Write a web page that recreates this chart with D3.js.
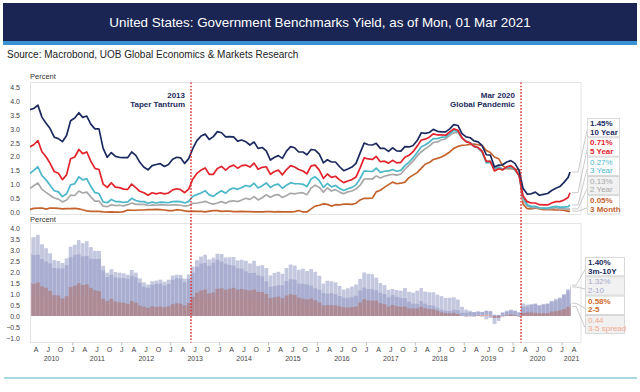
<!DOCTYPE html>
<html><head><meta charset="utf-8">
<script src="https://cdn.jsdelivr.net/npm/d3@7"></script>
<style>body{margin:0;background:#fff}svg{display:block;font-family:"Liberation Sans",Arial,sans-serif}</style>
</head><body><svg id="c" width="640" height="392"></svg>
<script>
// ---- data (monthly, starting Feb 2010; final entry = Mon 01 Mar 2021) ----
const startMonth = "2010-02";
const lastDate = "2021-03-01";
const y10 = [3.69,3.73,3.85,3.42,3.20,3.01,2.70,2.65,2.54,2.76,3.29,
 3.39,3.58,3.41,3.46,3.17,3.00,3.00,2.30,1.98,2.15,2.01,1.98,
 1.97,1.97,2.17,2.05,1.80,1.62,1.53,1.68,1.72,1.75,1.65,1.72,
 1.91,1.98,1.96,1.76,1.93,2.30,2.58,2.74,2.81,2.62,2.72,2.90,
 2.86,2.71,2.72,2.71,2.56,2.60,2.54,2.42,2.53,2.30,2.33,2.21,
 1.88,1.98,2.04,1.94,2.20,2.36,2.32,2.17,2.17,2.07,2.26,2.24,
 2.09,1.78,1.89,1.81,1.81,1.64,1.50,1.56,1.63,1.76,2.14,2.49,
 2.43,2.42,2.48,2.30,2.30,2.19,2.32,2.21,2.20,2.36,2.35,2.40,
 2.58,2.86,2.84,2.87,2.98,2.91,2.89,2.89,3.00,3.15,3.12,2.83,
 2.71,2.68,2.57,2.53,2.40,2.07,2.06,1.63,1.70,1.71,1.81,1.86,
 1.76,1.50,0.87,0.66,0.67,0.73,0.62,0.65,0.68,0.79,0.87,0.93,
 1.08,1.26,1.45];
const y5 = [2.36,2.43,2.58,2.18,2.00,1.76,1.47,1.41,1.18,1.35,1.93,
 1.99,2.26,2.11,2.17,1.84,1.58,1.54,1.02,0.90,1.06,0.91,0.89,
 0.84,0.83,1.02,0.89,0.76,0.71,0.62,0.71,0.67,0.71,0.67,0.70,
 0.81,0.85,0.82,0.71,0.84,1.20,1.40,1.52,1.60,1.37,1.37,1.58,
 1.65,1.52,1.64,1.70,1.59,1.68,1.70,1.63,1.77,1.55,1.62,1.64,
 1.37,1.47,1.52,1.35,1.54,1.68,1.63,1.54,1.49,1.39,1.67,1.70,
 1.52,1.22,1.38,1.26,1.30,1.17,1.07,1.13,1.18,1.27,1.60,1.96,
 1.92,1.90,2.01,1.82,1.84,1.77,1.87,1.78,1.80,1.98,2.05,2.18,
 2.38,2.60,2.63,2.70,2.82,2.78,2.78,2.77,2.89,3.00,2.95,2.68,
 2.54,2.49,2.37,2.33,2.19,1.83,1.83,1.49,1.57,1.53,1.64,1.68,
 1.56,1.32,0.59,0.39,0.34,0.34,0.28,0.27,0.27,0.34,0.39,0.39,
 0.45,0.54,0.71];
const y3 = [1.40,1.51,1.64,1.32,1.17,0.98,0.78,0.74,0.57,0.67,0.99,
 1.03,1.28,1.17,1.21,0.94,0.71,0.68,0.38,0.35,0.47,0.39,0.39,
 0.36,0.38,0.51,0.43,0.39,0.39,0.33,0.37,0.34,0.37,0.36,0.35,
 0.39,0.40,0.39,0.34,0.40,0.58,0.64,0.70,0.78,0.63,0.58,0.69,
 0.78,0.69,0.82,0.88,0.83,0.90,0.97,0.93,1.05,0.88,0.96,1.06,
 0.90,0.99,1.02,0.87,0.98,1.07,1.03,1.03,1.01,0.93,1.20,1.28,
 1.14,0.90,1.04,0.92,0.97,0.86,0.79,0.85,0.90,0.99,1.22,1.49,
 1.48,1.47,1.59,1.44,1.48,1.49,1.54,1.48,1.51,1.68,1.81,1.96,
 2.15,2.36,2.42,2.52,2.65,2.65,2.70,2.71,2.84,2.94,2.91,2.68,
 2.54,2.50,2.37,2.31,2.16,1.78,1.80,1.57,1.62,1.53,1.61,1.63,
 1.53,1.33,0.57,0.28,0.22,0.22,0.17,0.16,0.16,0.19,0.22,0.19,
 0.19,0.21,0.27];
const y2 = [0.86,0.96,1.06,0.83,0.72,0.62,0.52,0.48,0.38,0.45,0.62,
 0.61,0.77,0.70,0.73,0.56,0.41,0.41,0.23,0.21,0.28,0.25,0.26,
 0.24,0.28,0.34,0.29,0.29,0.29,0.25,0.27,0.26,0.28,0.27,0.26,
 0.27,0.27,0.26,0.23,0.25,0.33,0.34,0.36,0.40,0.34,0.30,0.34,
 0.39,0.33,0.40,0.42,0.39,0.45,0.51,0.47,0.57,0.45,0.53,0.64,
 0.55,0.62,0.64,0.54,0.61,0.69,0.67,0.70,0.71,0.64,0.88,0.98,
 0.90,0.73,0.88,0.77,0.82,0.73,0.67,0.74,0.77,0.84,0.98,1.20,
 1.21,1.20,1.31,1.24,1.30,1.34,1.37,1.34,1.38,1.55,1.70,1.84,
 2.03,2.18,2.28,2.38,2.51,2.53,2.61,2.64,2.77,2.86,2.86,2.68,
 2.56,2.50,2.39,2.32,2.21,1.83,1.84,1.57,1.65,1.55,1.61,1.61,
 1.52,1.33,0.45,0.23,0.17,0.19,0.15,0.14,0.13,0.14,0.17,0.13,
 0.13,0.12,0.13];
const m3 = [0.11,0.15,0.16,0.16,0.12,0.16,0.16,0.15,0.13,0.14,0.14,
 0.15,0.13,0.10,0.06,0.04,0.04,0.04,0.02,0.01,0.02,0.01,0.01,
 0.03,0.09,0.08,0.08,0.09,0.09,0.10,0.10,0.11,0.10,0.09,0.07,
 0.07,0.10,0.09,0.06,0.04,0.05,0.04,0.04,0.02,0.05,0.07,0.07,
 0.04,0.05,0.05,0.03,0.03,0.04,0.03,0.03,0.02,0.02,0.02,0.03,
 0.03,0.02,0.03,0.02,0.02,0.02,0.03,0.07,0.02,0.02,0.13,0.23,
 0.26,0.31,0.29,0.23,0.28,0.27,0.30,0.30,0.29,0.33,0.45,0.51,
 0.51,0.52,0.74,0.80,0.90,1.00,1.09,1.03,1.05,1.09,1.25,1.34,
 1.43,1.59,1.73,1.79,1.90,1.94,1.99,2.07,2.17,2.30,2.37,2.41,
 2.42,2.44,2.45,2.43,2.40,2.22,2.15,1.99,1.93,1.68,1.57,1.57,
 1.55,1.54,0.30,0.14,0.13,0.16,0.13,0.10,0.11,0.10,0.09,0.09,
 0.08,0.04,0.05];
// spreads (lower panel)
const s3m10 = [3.58,3.58,3.69,3.26,3.08,2.85,2.54,2.50,2.41,2.62,3.15,
 3.24,3.45,3.31,3.40,3.13,2.96,2.96,2.28,1.97,2.13,2.00,1.97,
 1.94,1.88,2.09,1.97,1.71,1.53,1.43,1.58,1.61,1.65,1.56,1.65,
 1.84,1.88,1.87,1.70,1.89,2.25,2.54,2.70,2.79,2.57,2.65,2.83,
 2.82,2.66,2.67,2.68,2.53,2.56,2.51,2.39,2.51,2.28,2.31,2.18,
 1.85,1.96,2.01,1.92,2.18,2.34,2.29,2.10,2.15,2.05,2.13,2.01,
 1.83,1.47,1.60,1.58,1.53,1.37,1.20,1.26,1.34,1.43,1.69,1.98,
 1.92,1.90,1.74,1.50,1.40,1.19,1.23,1.18,1.15,1.27,1.10,1.06,
 1.15,1.27,1.11,1.08,1.08,0.97,0.90,0.82,0.83,0.85,0.75,0.42,
 0.29,0.24,0.12,0.10,0.00,-0.15,-0.09,-0.36,-0.23,0.03,0.24,0.29,
 0.21,-0.04,0.57,0.52,0.54,0.57,0.49,0.55,0.57,0.69,0.78,0.84,
 1.00,1.22,1.40];
const s2_10 = [2.83,2.77,2.79,2.59,2.48,2.39,2.18,2.17,2.16,2.31,2.67,
 2.78,2.81,2.71,2.73,2.61,2.59,2.59,2.07,1.77,1.87,1.76,1.72,
 1.73,1.69,1.83,1.76,1.51,1.33,1.28,1.41,1.46,1.47,1.38,1.46,
 1.64,1.71,1.70,1.53,1.68,1.97,2.24,2.38,2.41,2.28,2.42,2.56,
 2.47,2.38,2.32,2.29,2.17,2.15,2.03,1.95,1.96,1.85,1.80,1.57,
 1.33,1.36,1.40,1.40,1.59,1.67,1.65,1.47,1.46,1.43,1.38,1.26,
 1.19,1.05,1.01,1.04,0.99,0.91,0.83,0.82,0.86,0.92,1.16,1.29,
 1.22,1.22,1.17,1.06,1.00,0.85,0.95,0.87,0.82,0.81,0.65,0.56,
 0.55,0.68,0.56,0.49,0.47,0.38,0.28,0.25,0.23,0.29,0.26,0.15,
 0.15,0.18,0.18,0.21,0.19,0.24,0.22,0.06,0.05,0.16,0.20,0.25,
 0.24,0.17,0.42,0.43,0.50,0.54,0.47,0.51,0.55,0.65,0.70,0.80,
 0.95,1.14,1.32];
const s2_5 = [1.50,1.47,1.52,1.35,1.28,1.14,0.95,0.93,0.80,0.90,1.31,
 1.38,1.49,1.41,1.44,1.28,1.17,1.13,0.79,0.69,0.78,0.66,0.63,
 0.60,0.55,0.68,0.60,0.47,0.42,0.37,0.44,0.41,0.43,0.40,0.44,
 0.54,0.58,0.56,0.48,0.59,0.87,1.06,1.16,1.20,1.03,1.07,1.24,
 1.26,1.19,1.24,1.28,1.20,1.23,1.19,1.16,1.20,1.10,1.09,1.00,
 0.82,0.85,0.88,0.81,0.93,0.99,0.96,0.84,0.78,0.75,0.79,0.72,
 0.62,0.49,0.50,0.49,0.48,0.44,0.40,0.39,0.41,0.43,0.62,0.76,
 0.71,0.70,0.70,0.58,0.54,0.43,0.50,0.44,0.42,0.43,0.35,0.34,
 0.35,0.42,0.35,0.32,0.31,0.25,0.17,0.13,0.12,0.14,0.09,0.00,
 -0.02,-0.01,-0.02,0.01,-0.02,0.00,-0.01,-0.08,-0.08,-0.02,0.03,0.07,
 0.04,-0.01,0.14,0.16,0.17,0.15,0.13,0.13,0.14,0.20,0.22,0.26,
 0.32,0.42,0.58];
const s3_5 = [0.96,0.92,0.94,0.86,0.83,0.78,0.69,0.67,0.61,0.68,0.94,
 0.96,0.98,0.94,0.96,0.90,0.87,0.86,0.64,0.55,0.59,0.52,0.50,
 0.48,0.45,0.51,0.46,0.37,0.32,0.29,0.34,0.33,0.34,0.31,0.35,
 0.42,0.45,0.43,0.37,0.44,0.62,0.76,0.82,0.82,0.74,0.79,0.89,
 0.87,0.83,0.82,0.82,0.76,0.78,0.73,0.70,0.72,0.67,0.66,0.58,
 0.47,0.48,0.50,0.48,0.56,0.61,0.60,0.51,0.48,0.46,0.47,0.42,
 0.38,0.32,0.34,0.34,0.33,0.31,0.28,0.28,0.28,0.28,0.38,0.47,
 0.44,0.43,0.42,0.38,0.36,0.28,0.33,0.30,0.29,0.30,0.24,0.22,
 0.23,0.24,0.21,0.18,0.17,0.13,0.08,0.06,0.05,0.06,0.04,0.00,
 0.00,-0.01,0.00,0.02,0.03,0.05,0.03,-0.08,-0.05,0.00,0.03,0.05,
 0.03,-0.01,0.02,0.11,0.12,0.12,0.11,0.11,0.11,0.15,0.17,0.20,
 0.26,0.33,0.44];
const topTicks = [0,0.5,1,1.5,2,2.5,3,3.5,4,4.5];
const botTicks = [-1,-0.5,0,0.5,1,1.5,2,2.5,3,3.5,4];
const monthLetters = {0:"J",3:"A",6:"J",9:"O"};
const events = [{date:"2013-06-01", l1:"2013", l2:"Taper Tantrum"},{date:"2020-03-01", l1:"Mar 2020", l2:"Global Pandemic"}];
const topSeries = [
  {name:"10 Year", val:"1.45%", data:y10, color:"#1c2a60", bold:true, bg:"#fff"},
  {name:"5 Year", val:"0.71%", data:y5, color:"#e3232c", bold:true, bg:"#fff"},
  {name:"3 Year", val:"0.27%", data:y3, color:"#4bb7c8", bold:false, bg:"#fff"},
  {name:"2 Year", val:"0.13%", data:y2, color:"#a8a8a8", bold:false, bg:"#f1f1f1"},
  {name:"3 Month", val:"0.05%", data:m3, color:"#c4622d", bold:true, bg:"#fff"}];
const botSeries = [
  {name:"3m-10Y", val:"1.40%", data:s3m10, fill:"#c4c8df", color:"#1c2a60", bold:true, bg:"#fff"},
  {name:"2-10", val:"1.32%", data:s2_10, fill:"#a9aed0", color:"#a9abc9", bold:false, bg:"#f1f1f1"},
  {name:"2-5", val:"0.58%", data:s2_5, fill:"#ac8b97", color:"#d06a26", bold:true, bg:"#fff"},
  {name:"3-5 spread", val:"0.44", data:s3_5, fill:"#e9b3a3", color:"#f2a98e", bold:false, bg:"#f1f1f1"}];

// ---- build ----
const svg = d3.select("#c");
const parseM = d3.timeParse("%Y-%m"), parseD = d3.timeParse("%Y-%m-%d");
const m0 = parseM(startMonth);
const n = y10.length;
const monthStarts = d3.range(n-1).map(i => d3.timeMonth.offset(m0, i));
const ptDates = monthStarts.map(d => d3.timeDay.offset(d, 14)).concat([parseD(lastDate)]);
const barX0 = monthStarts.concat([parseD(lastDate)]);
const barX1 = monthStarts.map(d => d3.timeMonth.offset(d,1)).concat([d3.timeDay.offset(parseD(lastDate),6)]);

const L = 30, R = 581;
const x = d3.scaleTime().domain([parseD("2010-02-15"), parseD("2021-05-22")]).range([L, R]);
const yT = d3.scaleLinear().domain([0,4.5]).range([212.5, 87]);
const yB = d3.scaleLinear().domain([-1,4]).range([338, 228]);
const topFrame = [82.5, 214.5], botFrame = [223.5, 342.5];

// header
svg.append("rect").attr("x",3).attr("y",3).attr("width",634).attr("height",38).attr("fill","#1a2554");
svg.append("rect").attr("x",3).attr("y",41).attr("width",634).attr("height",4).attr("fill","#3892d3");
svg.append("text").attr("x",320).attr("y",27).attr("text-anchor","middle").attr("fill","#fff")
  .attr("font-size",13.4).text("United States: Government Benchmarks Yield, as of Mon, 01 Mar 2021");
svg.append("text").attr("x",7).attr("y",58).attr("fill","#222").attr("font-size",10)
  .text("Source: Macrobond, UOB Global Economics & Markets Research");

// frames
[topFrame, botFrame].forEach(f => {
  svg.append("rect").attr("x",L+0.5).attr("y",f[0]).attr("width",R-L-0.5).attr("height",f[1]-f[0])
    .attr("fill","none").attr("stroke","#e4e4e4").attr("stroke-width",1);
});
svg.append("text").attr("x",L).attr("y",79).attr("font-size",7.5).attr("fill","#333").text("Percent");
svg.append("text").attr("x",L).attr("y",222).attr("font-size",7.5).attr("fill","#333").text("Percent");

// y axes
const yAxT = svg.append("g").attr("transform",`translate(${L-7},0)`)
  .call(d3.axisLeft(yT).tickValues(topTicks).tickFormat(d3.format(".1f")).tickSize(0));
const yAxB = svg.append("g").attr("transform",`translate(${L-7},0)`)
  .call(d3.axisLeft(yB).tickValues(botTicks).tickFormat(d3.format(".1f")).tickSize(0));
[yAxT,yAxB].forEach(g => { g.select(".domain").remove();
  g.selectAll("text").attr("font-size",7).attr("fill","#444").attr("font-family","Liberation Sans, Arial"); });

// bottom bars
svg.append("clipPath").attr("id","clipB").append("rect").attr("x",L+1).attr("y",botFrame[0]).attr("width",R-L-1).attr("height",botFrame[1]-botFrame[0]);
const gB = svg.append("g").attr("clip-path","url(#clipB)");
const drawOrder = [botSeries[0], botSeries[1], botSeries[3], botSeries[2]];
drawOrder.forEach(s => {
  gB.append("g").selectAll("rect").data(s.data).join("rect")
    .attr("x",(d,i)=>x(barX0[i]))
    .attr("width",(d,i)=>Math.max(0.5, x(barX1[i])-x(barX0[i])-0.3))
    .attr("y",d=>Math.min(yB(d),yB(0)))
    .attr("height",d=>Math.abs(yB(d)-yB(0)))
    .attr("fill",s.fill);
});

// top lines
svg.append("clipPath").attr("id","clipT").append("rect").attr("x",L).attr("y",topFrame[0]).attr("width",R-L).attr("height",topFrame[1]-topFrame[0]);
const gT = svg.append("g").attr("clip-path","url(#clipT)");
const line = d3.line().x((d,i)=>x(ptDates[i])).y(d=>yT(d));
[...topSeries].reverse().forEach(s => {
  gT.append("path").attr("d",line(s.data)).attr("fill","none").attr("stroke",s.color).attr("stroke-width",1.7).attr("stroke-linejoin","round");
});

// event lines
events.forEach(e => {
  const ex = Math.round(x(parseD(e.date)));
  svg.append("line").attr("x1",ex).attr("x2",ex).attr("y1",topFrame[0]).attr("y2",botFrame[1])
    .attr("stroke","#e02828").attr("stroke-width",1.4).attr("stroke-dasharray","1.6,1.6");
  svg.append("text").attr("x",ex-6).attr("y",98).attr("text-anchor","end").attr("font-size",8).attr("font-weight","bold").attr("fill","#1c2a60").text(e.l1);
  svg.append("text").attr("x",ex-6).attr("y",107).attr("text-anchor","end").attr("font-size",8).attr("font-weight","bold").attr("fill","#1c2a60").text(e.l2);
});

// x axis
const axY = botFrame[1];
const mt = d3.timeMonth.range(parseD("2010-04-01"), parseD("2021-05-01")).filter(d => d.getMonth()%3===0);
svg.append("g").selectAll("text").data(mt).join("text")
  .attr("x",d=>x(d)).attr("y",352).attr("text-anchor","middle").attr("font-size",7).attr("fill","#444")
  .text(d=>monthLetters[d.getMonth()]);
const yrs = d3.range(2010,2022);
svg.append("g").selectAll("text").data(yrs).join("text")
  .attr("x",yv=>{const a=Math.max(x(new Date(yv,0,1)),L), b=Math.min(x(new Date(yv+1,0,1)),R); return (a+b)/2;})
  .attr("y",361).attr("text-anchor","middle").attr("font-size",7).attr("fill","#444").text(d=>d);
svg.append("g").selectAll("line").data(yrs.slice(1)).join("line")
  .attr("x1",d=>x(new Date(d,0,1))).attr("x2",d=>x(new Date(d,0,1)))
  .attr("y1",axY).attr("y2",axY+3).attr("stroke","#bbb");

// legends
function legend(series, yScale, top, bx, bw, endX) {
  const bh = 19.3;
  series.forEach((s,i) => {
    const by = top + i*bh;
    const last = s.data[s.data.length-1];
    svg.append("path").attr("d",`M${endX},${yScale(last)} L${bx-9},${yScale(last)} L${bx},${by+bh/2+3}`)
      .attr("fill","none").attr("stroke","#bdbdbd").attr("stroke-width",0.8);
    svg.append("rect").attr("x",bx+0.5).attr("y",by+0.5).attr("width",bw).attr("height",bh-1)
      .attr("fill",s.bg).attr("stroke","#cfcfcf").attr("stroke-width",0.8);
    svg.append("text").attr("x",bx+3).attr("y",by+8).attr("font-size",8).attr("font-weight",s.bold?"bold":"normal").attr("fill",s.color).text(s.val);
    svg.append("text").attr("x",bx+3).attr("y",by+16.5).attr("font-size",8).attr("font-weight",s.bold?"bold":"normal").attr("fill",s.color).text(s.name);
  });
}
legend(topSeries, yT, 118, 587, 32, x(parseD(lastDate))+2);
legend(botSeries, yB, 257, 585, 39, x(parseD(lastDate))+2);

// bottom rule
svg.append("line").attr("x1",4).attr("x2",637).attr("y1",378).attr("y2",378).attr("stroke","#8ccbd6").attr("stroke-width",1.5);
</script></body></html>
